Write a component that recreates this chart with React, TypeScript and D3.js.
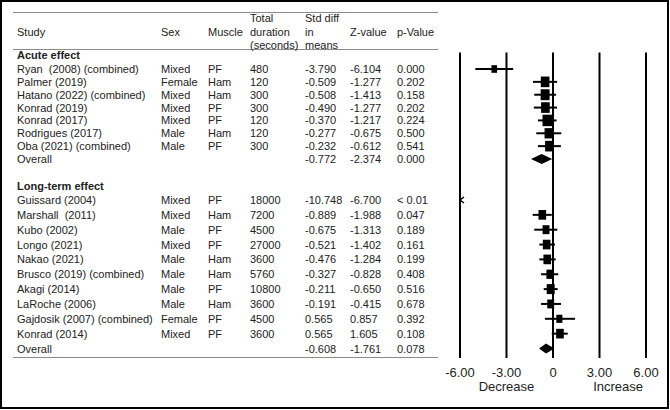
import React, { Component } from 'react';
import * as d3 from 'd3';

// table header, one entry per column (multi-line headers are split)
const headerLines = [
  ['Study'], ['Sex'], ['Muscle'],
  ['Total', 'duration', '(seconds)'],
  ['Std diff', 'in', 'means'],
  ['Z-value'], ['p-Value'],
];

// acute effect
const acuteStudy = ['Ryan  (2008) (combined)', 'Palmer (2019)', 'Hatano (2022) (combined)', 'Konrad (2019)',
  'Konrad (2017)', 'Rodrigues (2017)', 'Oba (2021) (combined)'];
const acuteSex = ['Mixed', 'Female', 'Mixed', 'Mixed', 'Mixed', 'Male', 'Male'];
const acuteMuscle = ['PF', 'Ham', 'Ham', 'PF', 'PF', 'Ham', 'PF'];
const acuteDuration = ['480', '120', '300', '300', '120', '120', '300'];
const acuteStdDiff = ['-3.790', '-0.509', '-0.508', '-0.490', '-0.370', '-0.277', '-0.232'];
const acuteZ = ['-6.104', '-1.277', '-1.413', '-1.277', '-1.217', '-0.675', '-0.612'];
const acuteP = ['0.000', '0.202', '0.158', '0.202', '0.224', '0.500', '0.541'];
const acutePoint = [-3.79, -0.509, -0.508, -0.49, -0.37, -0.277, -0.232];
const acuteLower = [-5.01, -1.29, -1.21, -1.24, -0.97, -1.08, -0.97];
const acuteUpper = [-2.57, 0.27, 0.2, 0.26, 0.23, 0.53, 0.51];
const acuteWeight = [6, 14, 15, 14, 17, 13, 14];
const acuteOverallText = ['-0.772', '-2.374', '0.000'];
const acuteOverallCI = [-1.42, -0.73, -0.05];

// long-term effect
const longStudy = ['Guissard (2004)', 'Marshall  (2011)', 'Kubo (2002)', 'Longo (2021)', 'Nakao (2021)',
  'Brusco (2019) (combined)', 'Akagi (2014)', 'LaRoche (2006)', 'Gajdosik (2007) (combined)', 'Konrad (2014)'];
const longSex = ['Mixed', 'Mixed', 'Male', 'Mixed', 'Male', 'Male', 'Male', 'Male', 'Female', 'Mixed'];
const longMuscle = ['PF', 'Ham', 'PF', 'PF', 'Ham', 'Ham', 'PF', 'Ham', 'PF', 'PF'];
const longDuration = ['18000', '7200', '4500', '27000', '3600', '5760', '10800', '3600', '4500', '3600'];
const longStdDiff = ['-10.748', '-0.889', '-0.675', '-0.521', '-0.476', '-0.327', '-0.211', '-0.191', '0.565', '0.565'];
const longZ = ['-6.700', '-1.988', '-1.313', '-1.402', '-1.284', '-0.828', '-0.650', '-0.415', '0.857', '1.605'];
const longP = ['< 0.01', '0.047', '0.189', '0.161', '0.199', '0.408', '0.516', '0.678', '0.392', '0.108'];
const longPoint = [-10.748, -0.69, -0.45, -0.41, -0.37, -0.19, -0.15, -0.15, 0.41, 0.45];
const longLower = [-13.89, -1.31, -1.21, -0.88, -0.88, -0.77, -0.6, -0.77, -0.52, -0.08];
const longUpper = [-7.6, -0.08, 0.28, 0.13, 0.17, 0.34, 0.3, 0.52, 1.42, 0.95];
const longWeight = [3, 11, 9, 11, 11, 10, 12, 9, 7, 11];
const longOverallText = ['-0.608', '-1.761', '0.078'];
const longOverallCI = [-0.9, -0.45, 0.09];

// forest axis
const tickValues = [-6, -3, 0, 3, 6];
const tickLabels = ['-6.00', '-3.00', '0', '3.00', '6.00'];
const directionLabels = ['Decrease', 'Increase'];

const FONT = '"Liberation Sans", Arial, sans-serif';
const INK = '#222';

class ForestPlot extends Component {
  myRef: any;
  width: number;
  height: number;

  constructor(props) {
    super(props);
    this.myRef = React.createRef();
    this.width = 670;
    this.height = 410;
  }

  componentDidMount() {
    this.draw();
  }

  draw() {
    const root = d3.select(this.myRef.current);
    root.selectAll('*').remove();

    const svg = root.append('svg')
      .attr('width', this.width)
      .attr('height', this.height)
      .style('display', 'block')
      .style('font-family', FONT);

    svg.append('rect')
      .attr('width', this.width).attr('height', this.height)
      .attr('fill', '#fff');

    // outer frame
    svg.append('rect')
      .attr('x', 1).attr('y', 1)
      .attr('width', 667).attr('height', 407)
      .attr('fill', 'none')
      .attr('stroke', '#000')
      .attr('stroke-width', 2);

    const colX = [17, 161, 208, 250, 305, 350, 397];
    const headerY = [18, 31.5, 44.5];

    const text = (x, y, s, size = 11, weight = 'normal', anchor = 'start') =>
      svg.append('text')
        .attr('x', x).attr('y', y)
        .attr('font-size', size)
        .attr('font-weight', weight)
        .attr('text-anchor', anchor)
        .attr('fill', INK)
        .style('white-space', 'pre')
        .text(s);

    // table rules
    [12.5, 49.5, 357.5].forEach(y => {
      svg.append('line')
        .attr('x1', 13).attr('x2', 438)
        .attr('y1', y).attr('y2', y)
        .attr('stroke', '#8a8a8a')
        .attr('stroke-width', 1);
    });

    headerLines.forEach((lines, i) => {
      const start = lines.length === 1 ? 1 : 0;
      lines.forEach((t, j) => text(colX[i], headerY[start + j] + 4, t));
    });

    text(colX[0], 58.5, 'Acute effect', 11, 'bold');
    text(colX[0], 190, 'Long-term effect', 11, 'bold');

    const x = d3.scaleLinear().domain([-6, 6]).range([460, 646]);
    const size = d3.scaleSqrt().domain([0, 17]).range([0, 9.5]);

    const yAcute = d3.scalePoint().domain(d3.range(acuteStudy.length + 1)).range([69, 159]);
    const yLong = d3.scalePoint().domain(d3.range(longStudy.length + 1)).range([200, 348.5]);

    // vertical reference lines
    svg.append('g').selectAll('line')
      .data(tickValues)
      .join('line')
      .attr('x1', d => x(d)).attr('x2', d => x(d))
      .attr('y1', 52.5).attr('y2', 358)
      .attr('stroke', '#000')
      .attr('stroke-width', 2);

    svg.append('g').selectAll('text')
      .data(tickValues)
      .join('text')
      .attr('x', d => x(d))
      .attr('y', 376.5)
      .attr('text-anchor', 'middle')
      .attr('font-size', 13)
      .attr('fill', INK)
      .text((d, i) => tickLabels[i]);

    text(x(-3), 390.5, directionLabels[0], 13, 'normal', 'middle');
    text(x(4.2), 390.5, directionLabels[1], 13, 'normal', 'middle');

    const section = (y, study, sex, muscle, duration, std, z, p, point, lower, upper, weight, overallText, overallCI) => {
      study.forEach((s, i) => {
        const yy = y(i);
        const cells = [s, sex[i], muscle[i], duration[i], std[i], z[i], p[i]];
        cells.forEach((c, k) => text(colX[k], yy + 4, c));

        if (upper[i] < -6) {
          // off the scale, arrow at the left edge
          svg.append('path')
            .attr('d', 'M' + (x(-6) + 4) + ',' + (yy - 3) + 'L' + x(-6) + ',' + yy + 'L' + (x(-6) + 4) + ',' + (yy + 3))
            .attr('fill', 'none')
            .attr('stroke', '#000')
            .attr('stroke-width', 1.5);
          return;
        }

        svg.append('line')
          .attr('x1', x(Math.max(lower[i], -6))).attr('x2', x(Math.min(upper[i], 6)))
          .attr('y1', yy).attr('y2', yy)
          .attr('stroke', '#000')
          .attr('stroke-width', 2);

        const w = size(weight[i]);
        svg.append('rect')
          .attr('x', x(point[i]) - w / 2)
          .attr('y', yy - w / 2 - 1)
          .attr('width', w)
          .attr('height', w + 2)
          .attr('fill', '#000');
      });

      const yo = y(study.length);
      text(colX[0], yo + 4, 'Overall');
      overallText.forEach((t, k) => text(colX[4 + k], yo + 4, t));

      svg.append('path')
        .attr('d', 'M' + x(overallCI[0]) + ',' + yo
          + 'L' + x(overallCI[1]) + ',' + (yo - 5)
          + 'L' + x(overallCI[2]) + ',' + yo
          + 'L' + x(overallCI[1]) + ',' + (yo + 5) + 'Z')
        .attr('fill', '#000');
    };

    section(yAcute, acuteStudy, acuteSex, acuteMuscle, acuteDuration, acuteStdDiff, acuteZ, acuteP,
      acutePoint, acuteLower, acuteUpper, acuteWeight, acuteOverallText, acuteOverallCI);
    section(yLong, longStudy, longSex, longMuscle, longDuration, longStdDiff, longZ, longP,
      longPoint, longLower, longUpper, longWeight, longOverallText, longOverallCI);
  }

  render() {
    return (
      <div ref={this.myRef}
           style={{ position: 'absolute', left: 0, top: 0, width: this.width, height: this.height }}>
      </div>
    );
  }
}

export default function App() {
  return <ForestPlot />;
}
